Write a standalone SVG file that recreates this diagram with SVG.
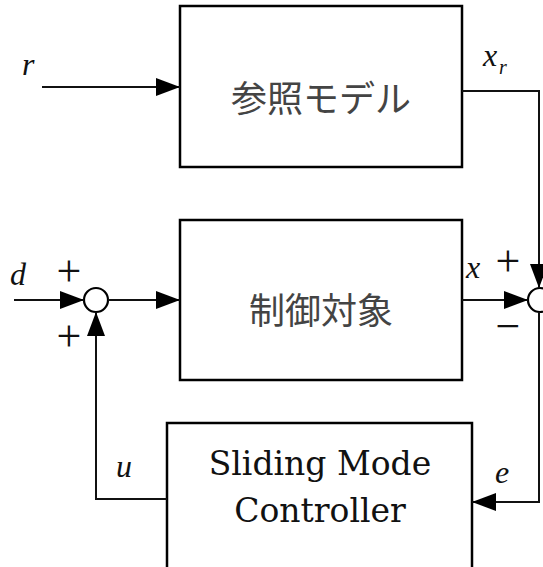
<svg xmlns="http://www.w3.org/2000/svg" width="543" height="567" viewBox="0 0 543 567">
<defs>
<marker id="ahl" viewBox="0 0 24 18" refX="24" refY="9" markerWidth="24" markerHeight="18" markerUnits="userSpaceOnUse" orient="auto">
<path d="M0,0 L24,9 L0,18 z" fill="#000"/>
</marker>
</defs>
<style>
.box{fill:#fff;stroke:#000;stroke-width:2.5}
.jp{font-family:"Noto Sans CJK JP","Noto Sans CJK SC",sans-serif;font-size:36px;fill:#444;text-anchor:middle}
.en{font-family:"DejaVu Serif","Liberation Serif",serif;font-size:33px;fill:#111;text-anchor:middle}
.m{font-family:"Liberation Serif","DejaVu Serif",serif;font-style:italic;font-size:32px;fill:#111}
.sg{font-family:"Liberation Serif","DejaVu Serif",serif;font-size:44px;fill:#111;text-anchor:middle}
.ln{fill:none;stroke:#111;stroke-width:2}
.sum{fill:#fff;stroke:#000;stroke-width:2.2}
</style>
<g id="ref_model">
<rect class="box" x="180" y="6" width="282" height="161"/>
<text class="jp" x="321" y="112">参照モデル</text>
</g>
<g id="plant">
<rect class="box" x="180" y="220" width="282" height="160"/>
<text class="jp" x="321" y="324">制御対象</text>
</g>
<g id="controller">
<rect class="box" x="167" y="423" width="305" height="150"/>
<text class="en" x="320" y="475">Sliding Mode</text>
<text class="en" x="320" y="522">Controller</text>
</g>
<g id="sum1">
<circle class="sum" cx="96" cy="300" r="12"/>
</g>
<g id="sum2">
<circle class="sum" cx="540" cy="300" r="12"/>
</g>
<g id="connectors">
<line class="ln" x1="42" y1="87" x2="180" y2="87" marker-end="url(#ahl)"/>
<line class="ln" x1="14" y1="300" x2="84" y2="300" marker-end="url(#ahl)"/>
<line class="ln" x1="108" y1="300" x2="180" y2="300" marker-end="url(#ahl)"/>
<line class="ln" x1="462" y1="300" x2="528" y2="300" marker-end="url(#ahl)"/>
<polyline class="ln" points="462,91 539,91 539,288" marker-end="url(#ahl)"/>
<polyline class="ln" points="539,312 539,502 472,502" marker-end="url(#ahl)"/>
<polyline class="ln" points="167,499 96,499 96,312" marker-end="url(#ahl)"/>
</g>
<g id="labels">
<text class="m" x="22" y="75">r</text>
<text class="m" x="483" y="66">x</text>
<text class="m" x="499" y="74" style="font-size:20px">r</text>
<text class="m" x="10" y="285">d</text>
<text class="sg" x="69" y="286">+</text>
<text class="sg" x="69" y="351">+</text>
<text class="m" x="466" y="278">x</text>
<text class="sg" x="508" y="276">+</text>
<text class="sg" x="508" y="341">−</text>
<text class="m" x="116" y="477">u</text>
<text class="m" x="495" y="483">e</text>
</g>
</svg>
